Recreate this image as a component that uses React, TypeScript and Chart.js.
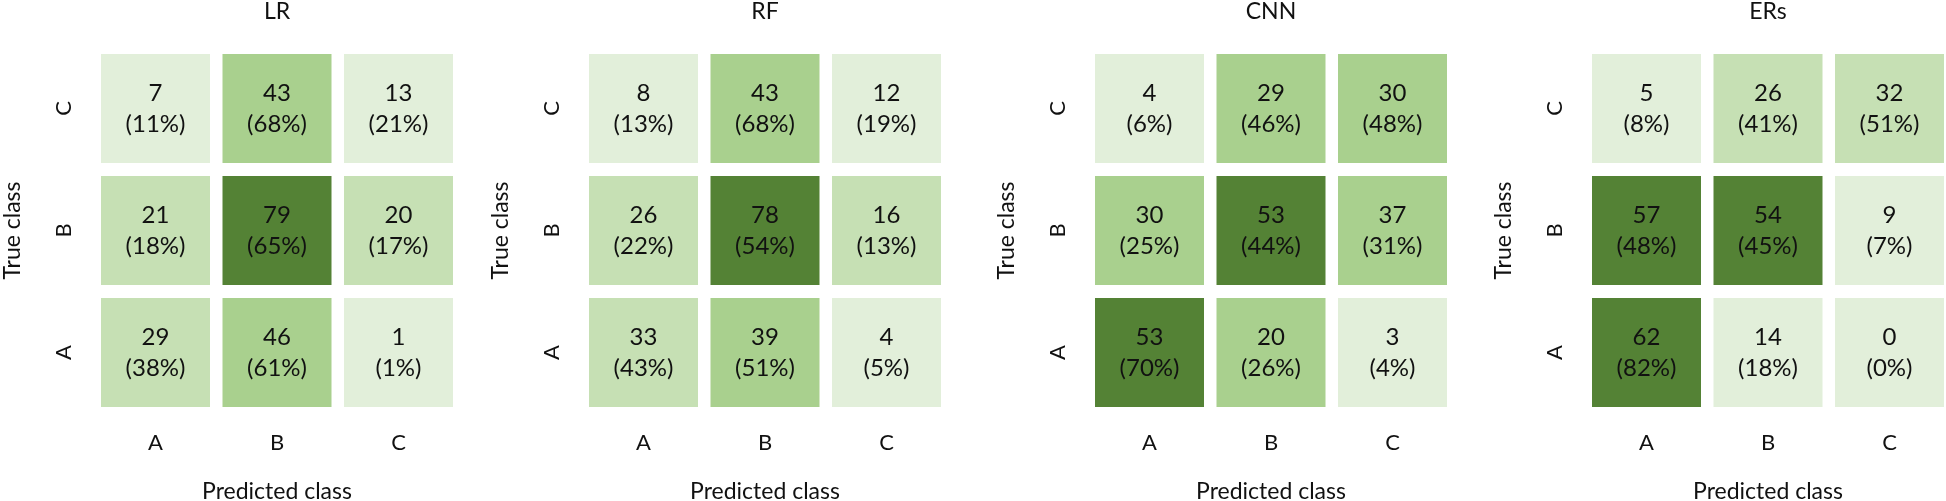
import React, { useEffect, useRef } from 'react';
import { Chart, registerables } from 'chart.js';

Chart.register(...registerables);

// ---------- data ----------
const models = ['LR', 'RF', 'CNN', 'ERs'];
const classLabels = ['A', 'B', 'C'];
const xAxisTitle = 'Predicted class';
const yAxisTitle = 'True class';

// rows = true class A, B, C ; columns = predicted class A, B, C
const lrCounts = [[29, 46, 1], [21, 79, 20], [7, 43, 13]];
const lrPercents = [[38, 61, 1], [18, 65, 17], [11, 68, 21]];
const rfCounts = [[33, 39, 4], [26, 78, 16], [8, 43, 12]];
const rfPercents = [[43, 51, 5], [22, 54, 13], [13, 68, 19]];
const cnnCounts = [[53, 20, 3], [30, 53, 37], [4, 29, 30]];
const cnnPercents = [[70, 26, 4], [25, 44, 31], [6, 46, 48]];
const ersCounts = [[62, 14, 0], [57, 54, 9], [5, 26, 32]];
const ersPercents = [[82, 18, 0], [48, 45, 7], [8, 41, 51]];

// ---------- style ----------
// shade level per cell (1 = lightest ... 4 = darkest)
const lrShades = [[2, 3, 1], [2, 4, 2], [1, 3, 1]];
const rfShades = [[2, 3, 1], [2, 4, 2], [1, 3, 1]];
const cnnShades = [[4, 3, 1], [3, 4, 3], [1, 3, 3]];
const ersShades = [[4, 1, 1], [4, 4, 1], [1, 2, 2]];
const shadeColors = ['#E2EFDA', '#C6E0B4', '#A9D08E', '#548235'];

const FONT = "Lato, 'Open Sans', sans-serif";
const TEXT_COLOR = '#111111';
const CELL_X = 109 / 121.5; // cell width / column pitch
const CELL_Y = 109 / 122; // cell height / row pitch
const HALF_X = CELL_X / 2;
const HALF_Y = CELL_Y / 2;
const CANVAS_W = 454;
const CANVAS_H = 501;
const panelLefts = [1, 489, 995, 1492];

const panelCounts = [lrCounts, rfCounts, cnnCounts, ersCounts];
const panelPercents = [lrPercents, rfPercents, cnnPercents, ersPercents];
const panelShades = [lrShades, rfShades, cnnShades, ersShades];

function Matrix({ title, counts, percents, shades, left }: any) {
  const ref = useRef<HTMLCanvasElement>(null);

  useEffect(() => {
    const canvas = ref.current!;
    const datasets = classLabels.map((trueLabel, r) => ({
      label: trueLabel,
      data: classLabels.map((_, c) => ({ x: c, y: [r - HALF_Y, r + HALF_Y] })),
      backgroundColor: classLabels.map((_, c) => shadeColors[shades[r][c] - 1]),
      borderWidth: 0,
      grouped: false,
      categoryPercentage: CELL_X,
      barPercentage: 1,
    }));

    const cellText = {
      id: 'cellText',
      afterDatasetsDraw(chart: any) {
        const ctx = chart.ctx;
        ctx.save();
        ctx.font = `24px ${FONT}`;
        ctx.fillStyle = TEXT_COLOR;
        ctx.textAlign = 'center';
        ctx.textBaseline = 'middle';
        chart.data.datasets.forEach((_: any, r: number) => {
          const meta = chart.getDatasetMeta(r);
          meta.data.forEach((el: any, c: number) => {
            const { x, y, base } = el.getProps(['x', 'y', 'base'], true);
            const cy = (y + base) / 2;
            ctx.fillText(String(counts[r][c]), x, cy - 15);
            ctx.fillText(`(${percents[r][c]}%)`, x, cy + 16);
          });
        });
        ctx.restore();
      },
    };

    const tickCallback = (v: any) => classLabels[Math.round(Number(v))] ?? '';
    const setTicks = (s: any) => {
      s.ticks = classLabels.map((_, i) => ({ value: i }));
    };

    const chart = new Chart(canvas, {
      type: 'bar',
      data: { datasets: datasets as any },
      options: {
        responsive: false,
        animation: false,
        events: [],
        layout: { padding: { left: 0, right: 2, top: 0, bottom: 0 } },
        plugins: {
          legend: { display: false },
          tooltip: { enabled: false },
          title: {
            display: true,
            text: title,
            fullSize: false,
            color: TEXT_COLOR,
            font: { family: FONT, size: 23, weight: 'normal', lineHeight: 1 },
            padding: { top: 0, bottom: 31 },
          },
        },
        scales: {
          x: {
            type: 'linear',
            min: -HALF_X,
            max: 2 + HALF_X,
            offset: false,
            grid: { display: false, drawTicks: false },
            border: { display: false },
            afterBuildTicks: setTicks,
            afterFit: (s: any) => { s.height = 94; },
            ticks: {
              callback: tickCallback,
              padding: 23,
              color: TEXT_COLOR,
              autoSkip: false,
              maxRotation: 0,
              font: { family: FONT, size: 22, lineHeight: 1.2 },
            },
            title: {
              display: true,
              text: xAxisTitle,
              color: TEXT_COLOR,
              font: { family: FONT, size: 23, lineHeight: 0.8 },
              padding: { top: 0, bottom: 0 },
            },
          },
          y: {
            type: 'linear',
            min: -HALF_Y,
            max: 2 + HALF_Y,
            grid: { display: false, drawTicks: false },
            border: { display: false },
            afterBuildTicks: setTicks,
            afterFit: (s: any) => { s.width = 100; },
            ticks: {
              callback: tickCallback,
              padding: 30,
              crossAlign: 'center',
              minRotation: 90,
              maxRotation: 90,
              autoSkip: false,
              color: TEXT_COLOR,
              font: { family: FONT, size: 22, lineHeight: 1.2 },
            },
            title: {
              display: true,
              text: yAxisTitle,
              color: TEXT_COLOR,
              font: { family: FONT, size: 23, lineHeight: 1 },
              padding: { top: 0, bottom: 0 },
            },
          },
        },
      } as any,
      plugins: [cellText],
    });
    return () => chart.destroy();
  }, [title, counts, percents, shades]);

  return (
    <canvas
      ref={ref}
      width={CANVAS_W}
      height={CANVAS_H}
      style={{ position: 'absolute', left, top: 0, width: CANVAS_W, height: CANVAS_H, display: 'block' }}
    />
  );
}

export default function App() {
  return (
    <div style={{ position: 'absolute', left: 0, top: 0, width: 1946, height: 501, background: '#ffffff', overflow: 'hidden' }}>
      {models.map((m, i) => (
        <Matrix
          key={m}
          title={m}
          counts={panelCounts[i]}
          percents={panelPercents[i]}
          shades={panelShades[i]}
          left={panelLefts[i]}
        />
      ))}
    </div>
  );
}
